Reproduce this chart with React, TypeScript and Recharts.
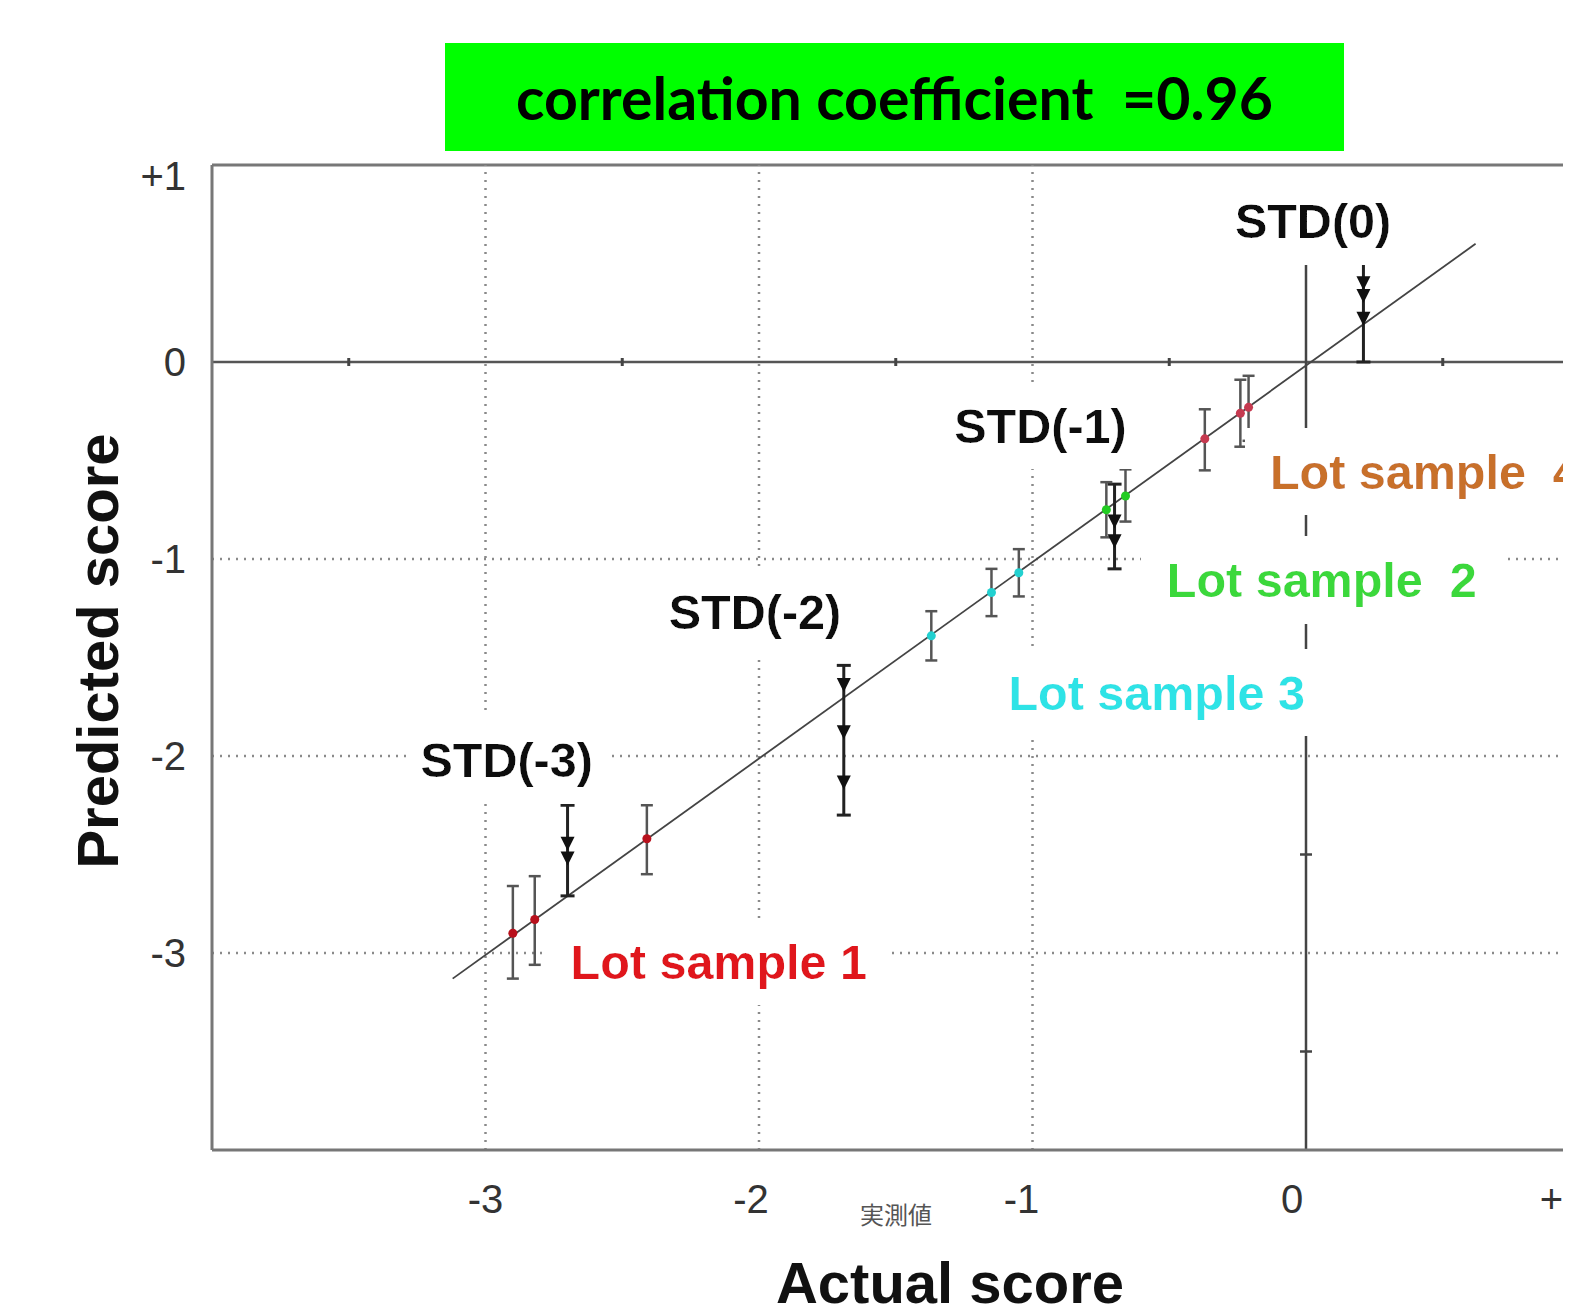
import React from 'react';
import { ScatterChart, Scatter, XAxis, YAxis, ReferenceLine, ErrorBar } from 'recharts';

const FONT = '"Liberation Sans", Arial, Helvetica, sans-serif';

// axis ticks
const xTicks = [-3, -2, -1, 0, 1];
const yTicks = [1, 0, -1, -2, -3];
const gridX = [-3, -2, -1];
const gridY = [-1, -2, -3];
const halfTicksOnZeroRow = [-3.5, -2.5, -1.5, -0.5, 0.5];
const halfTicksOnZeroCol = [0.5, -0.5, -1.5, -2.5, -3.5];

// lot samples: x = actual, y = predicted, err = [below, above]
const lot1 = [
  { x: -2.9, y: -2.9, err: [0.23, 0.24] },
  { x: -2.82, y: -2.83, err: [0.23, 0.22] },
  { x: -2.41, y: -2.42, err: [0.18, 0.17] },
];
const lot4 = [
  { x: -0.37, y: -0.39, err: [0.16, 0.15] },
  { x: -0.24, y: -0.26, err: [0.17, 0.17] },
  { x: -0.21, y: -0.23, err: [0.17, 0.16] },
];
const lot2 = [
  { x: -0.73, y: -0.75, err: [0.14, 0.14] },
  { x: -0.66, y: -0.68, err: [0.13, 0.135] },
];
const lot3 = [
  { x: -1.37, y: -1.39, err: [0.125, 0.125] },
  { x: -1.15, y: -1.17, err: [0.12, 0.12] },
  { x: -1.05, y: -1.07, err: [0.12, 0.12] },
];

// standards
const stdBars = [
  { x: -2.7, y: -2.48, err: [0.23, 0.23] },
  { x: -1.69, y: -1.92, err: [0.38, 0.38] },
  { x: -0.7, y: -0.835, err: [0.215, 0.215] },
  { x: 0.21, y: 0.265, err: [0.265, 0.265] },
];
const stdTriangles = [
  { x: -2.7, y: -2.445 },
  { x: -2.7, y: -2.52 },
  { x: -1.69, y: -1.64 },
  { x: -1.69, y: -1.88 },
  { x: -1.69, y: -2.135 },
  { x: -0.7, y: -0.81 },
  { x: -0.7, y: -0.91 },
  { x: 0.21, y: 0.4 },
  { x: 0.21, y: 0.335 },
  { x: 0.21, y: 0.22 },
];

const regression = [
  { x: -3.12, y: -3.13 },
  { x: 0.62, y: 0.6 },
];

const annotations = [
  { x: -0.26, y: 0.718, text: 'STD(0)', color: '#111111' },
  { x: -1.286, y: -0.321, text: 'STD(-1)', color: '#111111' },
  { x: -2.33, y: -1.268, text: 'STD(-2)', color: '#111111' },
  { x: -3.238, y: -2.017, text: 'STD(-3)', color: '#111111' },
  { x: -0.132, y: -0.555, text: 'Lot sample  4', color: '#c8702c' },
  { x: -0.509, y: -1.105, text: 'Lot sample  2', color: '#3ad83a' },
  { x: -1.088, y: -1.676, text: 'Lot sample 3', color: '#2de3e6' },
  { x: -2.689, y: -3.041, text: 'Lot sample 1', color: '#e0191c' },
];

const titleText = 'correlation coefficient  =0.96';
const xTitle = 'Actual score';
const yTitle = 'Predicted score';
const xSubTitle = '実測値';

const fmt = (v: number) => (v > 0 ? `+${v}` : `${v}`);

const XTick = (props: any) => {
  const { x, y, payload } = props;
  const v = payload.value;
  const shifts: Record<string, number> = { '-3': 0, '-2': -8, '-1': -11, '0': -14, '1': -17 };
  const s = shifts[String(v)] ?? 0;
  return (
    <text x={x + s} y={y + 63} textAnchor="middle" fontSize={40} fill="#333" fontFamily={FONT}>
      {fmt(v)}
    </text>
  );
};

const YTick = (props: any) => {
  const { x, y, payload } = props;
  const v = payload.value;
  return (
    <text x={x - 26} y={y + (v === 1 ? 11 : 0)} dy="0.36em" textAnchor="end" fontSize={40} fill="#333" fontFamily={FONT}>
      {fmt(v)}
    </text>
  );
};

const dotShape = (color: string) => (p: any) => <circle cx={p.cx} cy={p.cy} r={4.5} fill={color} />;
const emptyShape = () => <g />;
const triShape = (p: any) => (
  <polygon points={`${p.cx - 7},${p.cy - 7} ${p.cx + 7},${p.cy - 7} ${p.cx},${p.cy + 7}`} fill="#111" />
);
const vTickShape = (p: any) => <line x1={p.cx} y1={p.cy - 4} x2={p.cx} y2={p.cy + 4} stroke="#444" strokeWidth={3} />;
const hTickShape = (p: any) => <line x1={p.cx - 6} y1={p.cy} x2={p.cx + 6} y2={p.cy} stroke="#444" strokeWidth={2.5} />;

const annShape = (p: any) => {
  const d = p.payload;
  const id = 'bg' + String(d.text).replace(/[^A-Za-z0-9]/g, '');
  return (
    <g>
      <defs>
        <filter id={id} x="-0.08" y="-0.3" width="1.16" height="1.6">
          <feFlood floodColor="#ffffff" result="bg" />
          <feMerge>
            <feMergeNode in="bg" />
            <feMergeNode in="SourceGraphic" />
          </feMerge>
        </filter>
      </defs>
      <text
        x={p.cx}
        y={p.cy}
        dy="0.36em"
        fontSize={48.5}
        fontWeight="bold"
        fontFamily={FONT}
        fill={d.color}
        filter={`url(#${id})`}
        style={{ whiteSpace: 'pre' }}
      >
        {d.text}
      </text>
    </g>
  );
};

const barStroke = '#555';

export default function App() {
  return (
    <div style={{ position: 'relative', width: 1563, height: 1296, overflow: 'hidden', background: '#fff' }}>
      <ScatterChart width={1600} height={1320} margin={{ top: 157, right: 28.5, bottom: 118, left: 144 }}>
        <XAxis
          type="number"
          dataKey="x"
          domain={[-4, 1]}
          ticks={xTicks}
          interval={0}
          height={60}
          tickLine={false}
          tickSize={0}
          tickMargin={0}
          axisLine={{ stroke: '#777', strokeWidth: 3 }}
          tick={<XTick />}
          allowDataOverflow
        />
        <YAxis
          type="number"
          dataKey="y"
          domain={[-4, 1]}
          ticks={yTicks}
          interval={0}
          width={60}
          tickLine={false}
          tickSize={0}
          tickMargin={0}
          axisLine={{ stroke: '#777', strokeWidth: 3 }}
          tick={<YTick />}
          allowDataOverflow
        />
        <ReferenceLine y={1} stroke="#777" strokeWidth={3} />
        {gridX.map((v) => (
          <ReferenceLine key={'gx' + v} x={v} stroke="#8a8a8a" strokeWidth={2.5} strokeDasharray="2 6" />
        ))}
        {gridY.map((v) => (
          <ReferenceLine key={'gy' + v} y={v} stroke="#8a8a8a" strokeWidth={2.5} strokeDasharray="2 6" />
        ))}
        <ReferenceLine y={0} stroke="#555" strokeWidth={2.5} />
        <ReferenceLine
          segment={[
            { x: 0, y: 0.5 },
            { x: 0, y: -4 },
          ]}
          stroke="#444"
          strokeWidth={2.5}
          ifOverflow="visible"
        />
        <Scatter
          data={halfTicksOnZeroRow.map((x) => ({ x, y: 0 }))}
          shape={vTickShape}
          isAnimationActive={false}
        />
        <Scatter
          data={halfTicksOnZeroCol.map((y) => ({ x: 0, y }))}
          shape={hTickShape}
          isAnimationActive={false}
        />
        <Scatter data={annotations} shape={annShape} isAnimationActive={false} />
        <ReferenceLine
          segment={[
            { x: regression[0].x, y: regression[0].y },
            { x: regression[1].x, y: regression[1].y },
          ]}
          stroke="#444"
          strokeWidth={1.8}
          ifOverflow="visible"
        />
        <Scatter data={stdBars} shape={emptyShape} isAnimationActive={false}>
          <ErrorBar dataKey="err" direction="y" width={7} stroke="#222" strokeWidth={3} isAnimationActive={false} />
        </Scatter>
        <Scatter data={lot1} shape={dotShape('#b8101c')} isAnimationActive={false}>
          <ErrorBar dataKey="err" direction="y" width={6} stroke={barStroke} strokeWidth={2.5} isAnimationActive={false} />
        </Scatter>
        <Scatter data={lot4} shape={dotShape('#c63a50')} isAnimationActive={false}>
          <ErrorBar dataKey="err" direction="y" width={6} stroke={barStroke} strokeWidth={2.5} isAnimationActive={false} />
        </Scatter>
        <Scatter data={lot2} shape={dotShape('#22cc22')} isAnimationActive={false}>
          <ErrorBar dataKey="err" direction="y" width={6} stroke={barStroke} strokeWidth={2.5} isAnimationActive={false} />
        </Scatter>
        <Scatter data={lot3} shape={dotShape('#22d0d0')} isAnimationActive={false}>
          <ErrorBar dataKey="err" direction="y" width={6} stroke={barStroke} strokeWidth={2.5} isAnimationActive={false} />
        </Scatter>
        <Scatter data={stdTriangles} shape={triShape} isAnimationActive={false} />
      </ScatterChart>

      <div
        style={{
          position: 'absolute',
          left: 437,
          top: 35,
          width: 899,
          height: 108,
          background: '#00ff00',
          display: 'flex',
          alignItems: 'center',
          justifyContent: 'center',
          fontFamily: 'Lato, "Open Sans", sans-serif',
          fontWeight: 'bold',
          fontSize: 59,
          color: '#000',
          whiteSpace: 'pre',
        }}
      >
        {titleText}
      </div>

      <div
        style={{
          position: 'absolute',
          left: 90,
          top: 643,
          transform: 'translate(-50%, -50%) rotate(-90deg)',
          fontFamily: FONT,
          fontWeight: 'bold',
          fontSize: 58,
          lineHeight: 1,
          color: '#111',
          whiteSpace: 'nowrap',
        }}
      >
        {yTitle}
      </div>

      <div
        style={{
          position: 'absolute',
          left: 942,
          top: 1246,
          transform: 'translateX(-50%)',
          fontFamily: FONT,
          fontWeight: 'bold',
          fontSize: 58,
          lineHeight: 1,
          color: '#111',
          whiteSpace: 'nowrap',
        }}
      >
        {xTitle}
      </div>

      <div
        style={{
          position: 'absolute',
          left: 888,
          top: 1206,
          transform: 'translate(-50%, -50%)',
          fontFamily: '"Noto Sans CJK JP", sans-serif',
          fontSize: 24,
          lineHeight: 1,
          color: '#555',
          whiteSpace: 'nowrap',
        }}
      >
        {xSubTitle}
      </div>
    </div>
  );
}
